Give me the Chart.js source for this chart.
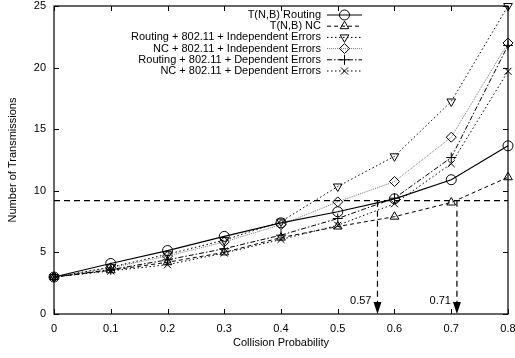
<!DOCTYPE html>
<html><head><meta charset="utf-8">
<script src="https://cdn.jsdelivr.net/npm/chart.js@4/dist/chart.umd.min.js"></script>
<style>html,body{margin:0;padding:0;background:#fff}#wrap{width:515px;height:358px}</style>
</head><body><div id="wrap"><canvas id="c" width="515" height="358"></canvas></div>
<script>
const collisionProb = [0, 0.1, 0.2, 0.3, 0.4, 0.5, 0.6, 0.7, 0.8];
const xTicks = [0, 0.1, 0.2, 0.3, 0.4, 0.5, 0.6, 0.7, 0.8];
const yTicks = [0, 5, 10, 15, 20, 25];
const routingTNB = [3, 4.1, 5.15, 6.3, 7.4, 8.3, 9.35, 10.9, 13.65];
const ncTNB = [3, 3.55, 4.2, 5.0, 6.2, 7.1, 7.9, 9.05, 11.1];
const routingIndep = [3, 3.8, 4.85, 6.0, 7.5, 10.35, 12.8, 17.25, 25];
const ncIndep = [3, 3.75, 4.7, 5.85, 7.25, 9.1, 10.75, 14.35, 22.0];
const routingDep = [3, 3.6, 4.4, 5.3, 6.4, 7.75, 9.4, 12.7, 21.8];
const ncDep = [3, 3.5, 4.0, 4.95, 6.05, 7.2, 8.95, 12.2, 19.7];
const seriesLabels = ['T(N,B) Routing', 'T(N,B) NC', 'Routing + 802.11 + Independent Errors',
  'NC + 802.11 + Independent Errors', 'Routing + 802.11 + Dependent Errors', 'NC + 802.11 + Dependent Errors'];
const thresholdY = 9.2;
const crossings = [0.57, 0.71];
const crossingLabels = ['0.57', '0.71'];

const FONT = 'Liberation Sans, Arial, Helvetica, sans-serif';
const pts = arr => arr.map((v, i) => ({x: collisionProb[i], y: v}));
const styles = [
  {dash: [], w: 1.2, c: '#000', ps: 'circle', rot: 0},
  {dash: [4, 3], w: 1, c: '#000', ps: 'triangle', rot: 0},
  {dash: [1.5, 2.5], w: 1, c: '#000', ps: 'triangle', rot: 180},
  {dash: [1, 1], w: 0.8, c: '#555', ps: 'rectRot', rot: 0},
  {dash: [5, 2, 1.5, 2], w: 1, c: '#000', ps: 'cross', rot: 0},
  {dash: [1.5, 2.5], w: 1, c: '#000', ps: 'crossRot', rot: 0}
];
const allSeries = [routingTNB, ncTNB, routingIndep, ncIndep, routingDep, ncDep];
const datasets = allSeries.map((s, i) => ({
  label: seriesLabels[i], data: pts(s),
  borderColor: styles[i].c, borderWidth: styles[i].w, borderDash: styles[i].dash,
  pointStyle: styles[i].ps, pointRotation: styles[i].rot, pointRadius: 5,
  pointBackgroundColor: 'rgba(0,0,0,0)', pointBorderColor: '#000', pointBorderWidth: 1,
  tension: 0, fill: false, clip: false
}));

const overlay = {
  id: 'overlay',
  afterDatasetsDraw(chart) {
    const {ctx, chartArea: a, scales: {x, y}} = chart;
    ctx.save();
    // frame
    ctx.strokeStyle = '#000'; ctx.lineWidth = 1.2; ctx.setLineDash([]);
    ctx.strokeRect(a.left, a.top, a.right - a.left, a.bottom - a.top);
    ctx.lineWidth = 1;
    ctx.beginPath();
    xTicks.forEach(t => {
      const px = Math.round(x.getPixelForValue(t)) + 0.5;
      ctx.moveTo(px, a.bottom); ctx.lineTo(px, a.bottom - 5);
      ctx.moveTo(px, a.top); ctx.lineTo(px, a.top + 5);
    });
    yTicks.forEach(t => {
      const py = Math.round(y.getPixelForValue(t)) + 0.5;
      ctx.moveTo(a.left, py); ctx.lineTo(a.left + 5, py);
      ctx.moveTo(a.right, py); ctx.lineTo(a.right - 5, py);
    });
    ctx.stroke();
    // threshold
    ctx.setLineDash([6, 4]); ctx.lineWidth = 1.2;
    const ty = y.getPixelForValue(thresholdY);
    ctx.beginPath(); ctx.moveTo(a.left, ty); ctx.lineTo(a.right, ty); ctx.stroke();
    const y0 = y.getPixelForValue(0);
    crossings.forEach((c, i) => {
      const px = x.getPixelForValue(c);
      ctx.setLineDash([6, 4]);
      ctx.beginPath(); ctx.moveTo(px, ty); ctx.lineTo(px, y0 - 12); ctx.stroke();
      ctx.setLineDash([]);
      ctx.fillStyle = '#000';
      ctx.beginPath(); ctx.moveTo(px - 4, y0 - 12); ctx.lineTo(px + 4, y0 - 12); ctx.lineTo(px, y0); ctx.closePath(); ctx.fill();
      ctx.font = '11px ' + FONT; ctx.textAlign = 'right'; ctx.textBaseline = 'middle';
      ctx.fillText(crossingLabels[i], px - 6, y0 - 13);
    });
    // legend
    ctx.font = '11px ' + FONT;
    datasets.forEach((d, i) => {
      const ly = 15 + 11.2 * i;
      ctx.fillStyle = '#000'; ctx.textAlign = 'right'; ctx.textBaseline = 'middle';
      ctx.fillText(d.label, 321, ly);
      ctx.strokeStyle = d.borderColor; ctx.lineWidth = d.borderWidth; ctx.setLineDash(d.borderDash);
      ctx.beginPath(); ctx.moveTo(327, ly); ctx.lineTo(362, ly); ctx.stroke();
      ctx.setLineDash([]);
      ctx.fillStyle = 'rgba(0,0,0,0)'; ctx.strokeStyle = '#000'; ctx.lineWidth = 1;
      Chart.helpers.drawPoint(ctx, {pointStyle: d.pointStyle, rotation: d.pointRotation, radius: 5, borderWidth: 1}, 344.5, ly);
    });
    ctx.restore();
  }
};

new Chart(document.getElementById('c'), {
  type: 'line',
  data: {datasets},
  options: {
    responsive: false, animation: false, devicePixelRatio: 1,
    layout: {padding: {left: 0, right: 7, top: 5, bottom: 0}},
    plugins: {legend: {display: false}, tooltip: {enabled: false}},
    scales: {
      x: {
        type: 'linear', min: 0, max: 0.8,
        grid: {display: false, drawTicks: false, tickLength: 0}, border: {display: false},
        afterBuildTicks: s => { s.ticks = xTicks.map(v => ({value: v})); },
        ticks: {padding: 8, color: '#000', font: {family: FONT, size: 11}, maxRotation: 0, autoSkip: false,
          callback: v => String(Math.round(v * 10) / 10)},
        title: {display: true, text: 'Collision Probability', color: '#000', font: {family: FONT, size: 11}, padding: {top: 0, bottom: 8}},
        afterFit: s => { s.height = 44; s.paddingLeft = 0; s.paddingRight = 0; }
      },
      y: {
        type: 'linear', min: 0, max: 25,
        grid: {display: false, drawTicks: false, tickLength: 0}, border: {display: false},
        afterBuildTicks: s => { s.ticks = yTicks.map(v => ({value: v})); },
        ticks: {padding: 8, color: '#000', font: {family: FONT, size: 11}, autoSkip: false},
        title: {display: true, text: 'Number of Transmissions', color: '#000', font: {family: FONT, size: 11}, padding: {top: 6, bottom: 0}},
        afterFit: s => { s.width = 54; s.paddingTop = 0; s.paddingBottom = 0; }
      }
    }
  },
  plugins: [overlay]
});
</script></body></html>
